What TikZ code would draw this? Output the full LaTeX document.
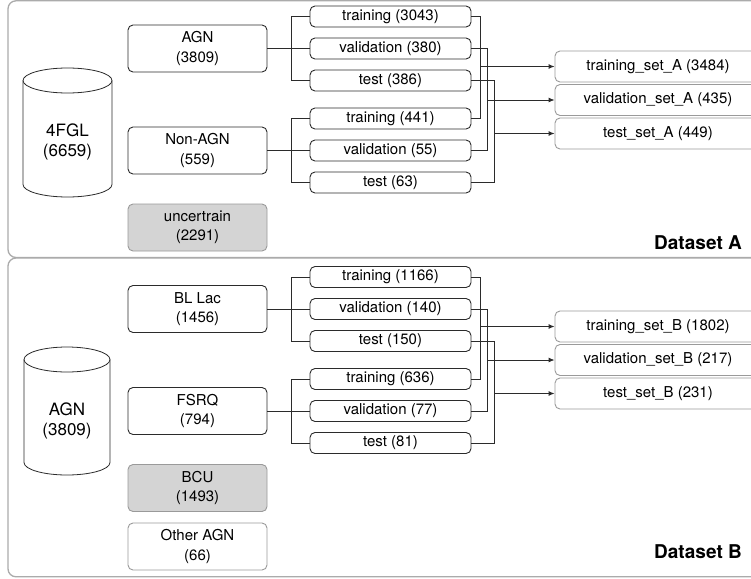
\documentclass[tikz,border=0pt]{standalone}
\usepackage{fontspec}
\setmainfont{TeX Gyre Heros}
\usetikzlibrary{arrows.meta}
\definecolor{inkc}{HTML}{2B2B2B}
\definecolor{panelc}{HTML}{ABABAB}
\definecolor{softc}{HTML}{9A9A9A}
\definecolor{greyfill}{HTML}{D4D4D4}

\tikzset{
  basefont/.style={font=\fontsize{15}{19.5}\selectfont},
  cylfont/.style={font=\fontsize{17}{20}\selectfont},
  panel/.style={draw=panelc, line width=1.3pt, rounded corners=8pt},
  catbox/.style={basefont, draw=inkc, line width=0.9pt, rounded corners=5pt,
    minimum width=139pt, minimum height=47pt, inner sep=0pt, align=center},
  greybox/.style={catbox, draw=softc, fill=greyfill},
  lightbox/.style={catbox, draw=softc, fill=white},
  splitbox/.style={basefont, draw=inkc, line width=0.9pt, rounded corners=5pt,
    minimum width=161pt, minimum height=21pt, inner sep=0pt},
  outbox/.style={basefont, draw=softc, line width=0.9pt, rounded corners=5pt,
    minimum width=206pt, minimum height=31pt, inner sep=0pt},
  conn/.style={draw=inkc, line width=0.9pt},
  arr/.style={conn, -{Latex[length=6pt,width=5pt]}},
  cyl/.style={draw=inkc, line width=0.8pt, fill=white},
  tag/.style={font=\fontsize{19}{21}\selectfont\bfseries, anchor=east, inner sep=0pt}
}

\begin{document}
\begin{tikzpicture}[x=1pt, y=-1pt]
\useasboundingbox (0,0) rectangle (751,578);

% ---------- panels ----------
\draw[panel] (8,0.8) rectangle (800,257.5);
\draw[panel] (8,258) rectangle (800,576.8);

% ---------- Dataset A ----------
% 4FGL cylinder
\draw[cyl] (23,80.5) -- (23,184.5)
  arc[start angle=180, end angle=0, x radius=44.5, y radius=12.5] -- (112,80.5);
\draw[cyl] (67.5,80.5) ellipse [x radius=44.5, y radius=12.5];
\node[cylfont, align=center] (fgl) at (67.5,142) {4FGL\\(6659)};

\node[catbox] (agn) at (197.5,48.5) {AGN\\(3809)};
\node[catbox] (nonagn) at (197.5,150.5) {Non-AGN\\(559)};
\node[greybox] (uncert) at (197.5,227.5) {uncertrain\\(2291)};

\node[splitbox] (tA1) at (390.5,16.5) {training (3043)};
\node[splitbox] (vA1) at (390.5,48.5) {validation (380)};
\node[splitbox] (sA1) at (390.5,80.5) {test (386)};
\node[splitbox] (tA2) at (390.5,118.5) {training (441)};
\node[splitbox] (vA2) at (390.5,150.5) {validation (55)};
\node[splitbox] (sA2) at (390.5,182.5) {test (63)};

\node[outbox] (oA1) at (658,66.5) {training\_set\_A (3484)};
\node[outbox] (oA2) at (658,100) {validation\_set\_A (435)};
\node[outbox] (oA3) at (658,133.5) {test\_set\_A (449)};

\node[tag] (labA) at (742,243) {Dataset A};

% left-hand splits
\draw[conn] (agn.east) -- (vA1.west);
\draw[conn] (tA1.west) -- ++(-18,0) |- (sA1.west);
\draw[conn] (nonagn.east) -- (vA2.west);
\draw[conn] (tA2.west) -- ++(-18,0) |- (sA2.west);

% right-hand merges
\coordinate (jtA) at ([xshift=9pt]tA1.east);
\coordinate (jvA) at ([xshift=16pt]vA1.east);
\coordinate (jsA) at ([xshift=23pt]sA1.east);
\draw[conn] (tA1.east) -- (jtA) |- (tA2.east);
\draw[conn] (vA1.east) -- (jvA) |- (vA2.east);
\draw[conn] (sA1.east) -- (jsA) |- (sA2.east);
\draw[arr] (jtA |- oA1.west) -- (oA1.west);
\draw[arr] (jvA |- oA2.west) -- (oA2.west);
\draw[arr] (jsA |- oA3.west) -- (oA3.west);

% ---------- Dataset B ----------
% AGN cylinder
\draw[cyl] (24,359.5) -- (24,462.5)
  arc[start angle=180, end angle=0, x radius=43, y radius=12.5] -- (110,359.5);
\draw[cyl] (67,359.5) ellipse [x radius=43, y radius=12.5];
\node[cylfont, align=center] (agncyl) at (67,421) {AGN\\(3809)};

\node[catbox] (bllac) at (197.5,309) {BL Lac\\(1456)};
\node[catbox] (fsrq) at (197.5,411) {FSRQ\\(794)};
\node[greybox] (bcu) at (197.5,488) {BCU\\(1493)};
\node[lightbox] (other) at (197.5,546.5) {Other AGN\\(66)};

\node[splitbox] (tB1) at (390.5,277) {training (1166)};
\node[splitbox] (vB1) at (390.5,309) {validation (140)};
\node[splitbox] (sB1) at (390.5,341) {test (150)};
\node[splitbox] (tB2) at (390.5,379) {training (636)};
\node[splitbox] (vB2) at (390.5,411) {validation (77)};
\node[splitbox] (sB2) at (390.5,443) {test (81)};

\node[outbox] (oB1) at (658,326.5) {training\_set\_B (1802)};
\node[outbox] (oB2) at (658,360) {validation\_set\_B (217)};
\node[outbox] (oB3) at (658,393.5) {test\_set\_B (231)};

\node[tag] (labB) at (742,552) {Dataset B};

% left-hand splits
\draw[conn] (bllac.east) -- (vB1.west);
\draw[conn] (tB1.west) -- ++(-18,0) |- (sB1.west);
\draw[conn] (fsrq.east) -- (vB2.west);
\draw[conn] (tB2.west) -- ++(-18,0) |- (sB2.west);

% right-hand merges
\coordinate (jtB) at ([xshift=9pt]tB1.east);
\coordinate (jvB) at ([xshift=16pt]vB1.east);
\coordinate (jsB) at ([xshift=23pt]sB1.east);
\draw[conn] (tB1.east) -- (jtB) |- (tB2.east);
\draw[conn] (vB1.east) -- (jvB) |- (vB2.east);
\draw[conn] (sB1.east) -- (jsB) |- (sB2.east);
\draw[arr] (jtB |- oB1.west) -- (oB1.west);
\draw[arr] (jvB |- oB2.west) -- (oB2.west);
\draw[arr] (jsB |- oB3.west) -- (oB3.west);
\end{tikzpicture}
\end{document}
